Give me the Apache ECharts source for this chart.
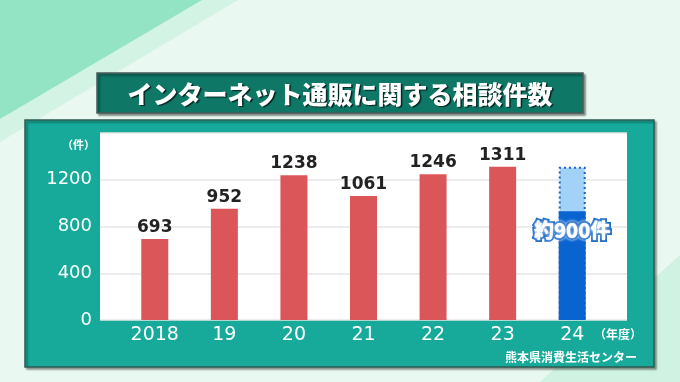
<!DOCTYPE html>
<html><head><meta charset="utf-8">
<script src="https://cdn.jsdelivr.net/npm/echarts@6/dist/echarts.min.js"></script>
<style>html,body{margin:0;padding:0;background:#e9f9f1}#c{width:680px;height:382px}</style>
</head><body><div id="c"></div>
<script>
const title = 'インターネット通販に関する相談件数';
const categories = ['2018', '19', '20', '21', '22', '23', '24'];
const actualValues = [693, 952, 1238, 1061, 1246, 1311, null];
const partialValues = [null, null, null, null, null, null, 930];
const estimateValues = [null, null, null, null, null, null, 1311];
const estimateLabel = '約900件';
const yTicks = [0, 400, 800, 1200, 1600];
const yUnit = '（件）';
const xUnit = '（年度）';
const source = '熊本県消費生活センター';

const chart = echarts.init(document.getElementById('c'), null, {renderer: 'canvas'});
const numFont = '"DejaVu Sans", sans-serif';
const jpFont = '"Noto Sans CJK JP", sans-serif';

chart.setOption({
  backgroundColor: '#e9f9f1',
  animation: false,
  graphic: [
    {type: 'polygon', z: -10, shape: {points: [[0,0],[238,0],[0,142]]}, style: {fill: '#d3f3e4'}},
    {type: 'polygon', z: -9, shape: {points: [[0,0],[202,0],[0,119]]}, style: {fill: '#93e4c5'}},
    {type: 'polygon', z: -10, shape: {points: [[540,382],[680,255],[680,382]]}, style: {fill: '#d0f2e2'}},
    {type: 'rect', z: -5, shape: {x: 25, y: 120, width: 629, height: 247},
      style: {fill: '#17aa9b', stroke: '#2e5a52', lineWidth: 1.5, shadowColor: 'rgba(0,0,0,0.35)', shadowOffsetX: 2, shadowOffsetY: 2, shadowBlur: 2}},
    {type: 'rect', z: -4, shape: {x: 100, y: 133, width: 527, height: 187}, style: {fill: '#ffffff'}},
    {type: 'rect', z: 5, shape: {x: 97, y: 73, width: 486, height: 40},
      style: {fill: '#0f7766', stroke: '#4a5a57', lineWidth: 1.5, shadowColor: 'rgba(0,0,0,0.4)', shadowOffsetX: 2, shadowOffsetY: 2, shadowBlur: 2}},
    {type: 'text', z: 6, x: 340, y: 94, style: {text: title, fill: '#ffffff', font: '900 25px ' + jpFont,
      textAlign: 'center', textVerticalAlign: 'middle', textShadowColor: 'rgba(0,0,0,0.7)', textShadowOffsetX: 1.5, textShadowOffsetY: 1.5, textShadowBlur: 1}},
    {type: 'text', z: 6, x: 95, y: 145, style: {text: yUnit, fill: '#ffffff', font: 'bold 11px ' + jpFont, textAlign: 'right', textVerticalAlign: 'middle'}},
    {type: 'text', z: 6, x: 642, y: 334, style: {text: xUnit, fill: '#ffffff', font: 'bold 12px ' + jpFont, textAlign: 'right', textVerticalAlign: 'middle'}},
    {type: 'text', z: 6, x: 637, y: 357, style: {text: source, fill: '#ffffff', font: 'bold 12px ' + jpFont, textAlign: 'right', textVerticalAlign: 'middle'}}
  ],
  grid: [
    {left: 100, right: 53, top: 133, bottom: 62},
    {left: 120, width: 487, top: 133, bottom: 62}
  ],
  xAxis: [
    {type: 'category', gridIndex: 0, data: categories, show: false},
    {type: 'category', gridIndex: 1, data: categories,
      axisLine: {show: false}, axisTick: {show: false},
      axisLabel: {color: '#ffffff', fontFamily: numFont, fontSize: 19, margin: 6}}
  ],
  yAxis: [
    {type: 'value', gridIndex: 0, min: yTicks[0], max: yTicks[yTicks.length-1], interval: yTicks[1]-yTicks[0],
      axisLine: {show: false}, axisTick: {show: false},
      splitLine: {lineStyle: {color: '#e6e6e6', width: 1.5}},
      axisLabel: {color: '#ffffff', fontFamily: numFont, fontSize: 18, margin: 8, showMaxLabel: false,
        formatter: v => String(v)}},
    {type: 'value', gridIndex: 1, min: yTicks[0], max: yTicks[yTicks.length-1], interval: yTicks[1]-yTicks[0], show: false}
  ],
  series: [
    {type: 'bar', xAxisIndex: 1, yAxisIndex: 1, data: actualValues, barWidth: 27, barGap: '-100%',
      itemStyle: {color: '#da5658'},
      label: {show: true, position: 'top', distance: 3, color: '#222222', fontFamily: numFont, fontWeight: 'bold', fontSize: 17}},
    {type: 'bar', xAxisIndex: 1, yAxisIndex: 1, data: estimateValues, barWidth: 27, barGap: '-100%',
      itemStyle: {color: '#a2d2f8', borderColor: '#1f5fc0', borderWidth: 2, borderType: [2, 3]}},
    {type: 'bar', xAxisIndex: 1, yAxisIndex: 1, data: partialValues, barWidth: 27, barGap: '-100%',
      itemStyle: {color: '#0a64d0'},
      label: {show: true, position: 'insideTop', distance: 9, formatter: estimateLabel,
        color: '#ffffff', fontFamily: jpFont, fontWeight: 900, fontSize: 20,
        textBorderColor: '#1565c8', textBorderWidth: 4, textShadowColor: '#ffffff', textShadowBlur: 3}}
  ]
});
</script></body></html>
